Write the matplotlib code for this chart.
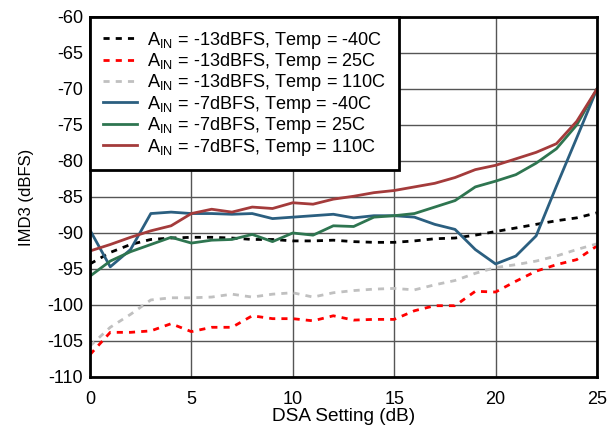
import matplotlib
matplotlib.use("Agg")
import matplotlib.pyplot as plt

plt.rcParams['font.family'] = ['Liberation Sans', 'DejaVu Sans']
plt.rcParams['axes.unicode_minus'] = False

dsa = list(range(26))

# AIN = -13dBFS
imd3_13_m40 = [-94.3, -92.7, -91.6, -90.9, -90.7, -90.6, -90.6, -90.7, -90.9, -90.9,
               -91.1, -91.1, -91.0, -91.2, -91.3, -91.3, -91.1, -90.8, -90.7, -90.3,
               -89.8, -89.3, -88.8, -88.3, -87.9, -87.2]
imd3_13_25 = [-106.9, -103.8, -103.8, -103.6, -102.6, -103.7, -103.1, -103.1, -101.5, -101.9,
              -101.9, -102.2, -101.5, -102.1, -102.0, -102.0, -100.8, -100.1, -100.1, -98.1,
              -98.2, -96.7, -95.3, -94.4, -93.7, -91.8]
imd3_13_110 = [-105.7, -103.1, -101.3, -99.3, -99.0, -99.0, -98.9, -98.5, -98.9, -98.5,
               -98.3, -98.9, -98.3, -98.0, -97.8, -97.7, -97.9, -97.2, -96.6, -95.6,
               -94.8, -94.4, -93.9, -93.2, -92.3, -91.5]

# AIN = -7dBFS
imd3_7_m40 = [-89.6, -94.7, -92.3, -87.3, -87.1, -87.3, -87.3, -87.4, -87.3, -88.0,
              -87.8, -87.6, -87.4, -87.9, -87.6, -87.6, -87.8, -88.8, -89.5, -92.3,
              -94.3, -93.2, -90.4, -83.5, -76.8, -70.0]
imd3_7_25 = [-96.0, -93.9, -92.6, -91.6, -90.6, -91.4, -91.0, -90.9, -90.2, -91.2,
             -90.0, -90.3, -89.0, -89.1, -87.8, -87.6, -87.3, -86.4, -85.5, -83.6,
             -82.8, -81.9, -80.3, -78.3, -75.0, -70.0]
imd3_7_110 = [-92.5, -91.6, -90.6, -89.7, -89.0, -87.3, -86.7, -87.1, -86.4, -86.6,
              -85.8, -86.0, -85.3, -84.9, -84.4, -84.1, -83.6, -83.1, -82.3, -81.2,
              -80.6, -79.7, -78.8, -77.6, -74.5, -70.0]

labels = [
    'A$_{\\mathregular{IN}}$ = -13dBFS, Temp = -40C',
    'A$_{\\mathregular{IN}}$ = -13dBFS, Temp = 25C',
    'A$_{\\mathregular{IN}}$ = -13dBFS, Temp = 110C',
    'A$_{\\mathregular{IN}}$ = -7dBFS, Temp = -40C',
    'A$_{\\mathregular{IN}}$ = -7dBFS, Temp = 25C',
    'A$_{\\mathregular{IN}}$ = -7dBFS, Temp = 110C',
]

fig = plt.figure(figsize=(6.15, 4.25), dpi=100)
ax = fig.add_axes([0.1463, 0.113, 0.8244, 0.847])

dash = (0, (2.2, 2.2))
ax.plot(dsa, imd3_13_m40, color='black', lw=2, linestyle=dash, label=labels[0])
ax.plot(dsa, imd3_13_25, color='#ff0000', lw=2, linestyle=dash, label=labels[1])
ax.plot(dsa, imd3_13_110, color='#c0c0c0', lw=2, linestyle=dash, label=labels[2])
ax.plot(dsa, imd3_7_m40, color='#2b5f80', lw=2, label=labels[3])
ax.plot(dsa, imd3_7_25, color='#2e7550', lw=2, label=labels[4])
ax.plot(dsa, imd3_7_110, color='#a43b3b', lw=2, label=labels[5])

ax.set_xlim(0, 25)
ax.set_ylim(-110, -60)
ax.set_xticks(range(0, 26, 5))
ax.set_yticks(range(-110, -59, 5))
ax.grid(True, color='#555555', lw=1)
ax.set_axisbelow(True)
ax.tick_params(axis='y', length=0, labelsize=13, pad=5)
ax.tick_params(axis='x', length=0, labelsize=13, pad=10)
for s in ax.spines.values():
    s.set_linewidth(2)
    s.set_color('black')

ax.set_xlabel('DSA Setting (dB)', fontsize=13.7, labelpad=0)
ax.set_ylabel('IMD3 (dBFS)', fontsize=12, labelpad=9)

leg = ax.legend(loc='upper left', fontsize=13.1, frameon=True, fancybox=False,
                framealpha=1, edgecolor='black', borderaxespad=0,
                handlelength=1.9, labelspacing=0.02, borderpad=0.7, handletextpad=0.55)
leg.get_frame().set_linewidth(2)

fig.savefig('out.png', dpi=100)
